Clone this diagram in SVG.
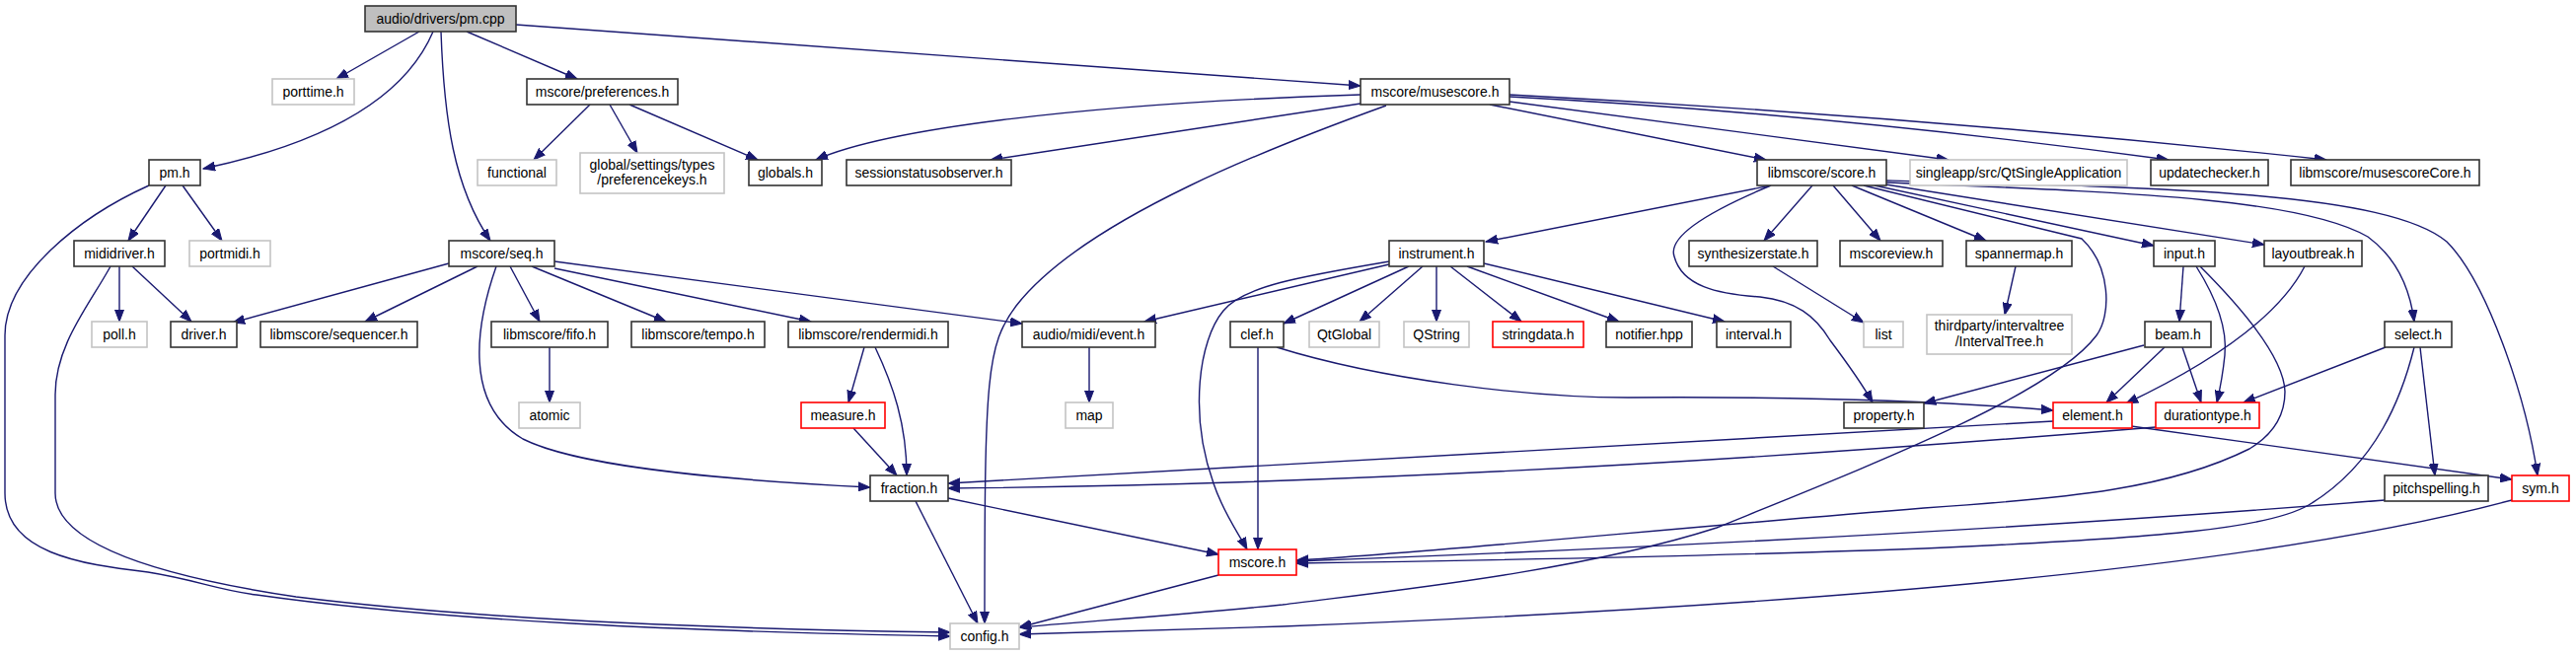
<svg xmlns="http://www.w3.org/2000/svg" width="2611" height="664" viewBox="0 0 2611 664">
<style>
.n rect{fill:#fff;stroke:#333;stroke-width:1.6}
.n.g rect{stroke:#c4c4c4}
.n.r rect{stroke:#f00}
.n.root rect{fill:#bfbfbf}
.n text{font-family:"Liberation Sans",Arial,sans-serif;font-size:14px;fill:#000;text-anchor:middle}
#edges path{fill:none;stroke:#191970;stroke-width:1.4;marker-end:url(#ah)}
</style>
<defs>
<marker id="ah" markerUnits="userSpaceOnUse" markerWidth="13" markerHeight="10" refX="12" refY="5" orient="auto"><path d="M0,0.5 L12,5 L0,9.5 z" fill="#191970" stroke="#191970" stroke-width="1"/></marker>
</defs>
<rect width="2611" height="664" fill="#fff"/>
<g id="edges">
<path d="M425,32 L341,80"/>
<path d="M439,32 C410,100 330,145 206,171"/>
<path d="M447,32 C450,120 460,190 497,244"/>
<path d="M473,32 L585,80"/>
<path d="M523,25 L1379,87"/>
<path d="M598,106 L541,162"/>
<path d="M618,106 L646,155"/>
<path d="M638,106 L768,162"/>
<path d="M168,188 L130,244"/>
<path d="M185,188 L225,244"/>
<path d="M151,188 C80,220 5,280 5,340 L5,500 C5,560 80,572 150,580 C200,588 220,598 260,603 C450,630 700,640 963,645"/>
<path d="M121,270 L121,326"/>
<path d="M134,270 L194,326"/>
<path d="M112,270 C90,310 56,350 56,400 L56,500 C56,560 200,590 300,605 C500,630 750,638 963,641"/>
<path d="M455,267 L236,327"/>
<path d="M484,270 L370,326"/>
<path d="M517,270 L547,326"/>
<path d="M539,270 L675,326"/>
<path d="M562,272 L822,326"/>
<path d="M562,265 L1036,328"/>
<path d="M503,270 C482,330 470,410 530,445 C580,470 700,485 882,494"/>
<path d="M557,352 L557,408"/>
<path d="M876,352 L860,408"/>
<path d="M887,352 C905,390 919,430 919,482"/>
<path d="M865,434 L909,482"/>
<path d="M1104,352 L1104,408"/>
<path d="M1379,96 C1100,105 900,130 827,162"/>
<path d="M1379,105 L1004,162"/>
<path d="M1405,107 C1300,145 1100,220 1030,310 C1000,350 998,380 998,632"/>
<path d="M1510,106 L1790,162"/>
<path d="M1530,103 L1975,162"/>
<path d="M1530,98 Q1850,115 2198,162"/>
<path d="M1530,96 Q1950,118 2358,162"/>
<path d="M1795,188 L1506,245"/>
<path d="M1795,188 C1730,215 1690,240 1697,260 C1705,290 1740,298 1784,301 C1820,305 1840,320 1855,345 C1870,365 1885,385 1898,408"/>
<path d="M1837,188 L1788,244"/>
<path d="M1858,188 L1906,244"/>
<path d="M1877,188 L2013,244"/>
<path d="M1889,188 L2110,242 C2140,270 2140,320 2125,340 C2080,400 1900,470 1740,535 C1600,580 1400,600 1300,613 C1200,623 1100,630 1033,636"/>
<path d="M1900,188 L2183,249"/>
<path d="M1905,186 L2295,248"/>
<path d="M1912,185 C2150,195 2330,200 2400,240 C2430,262 2443,295 2447,326"/>
<path d="M1912,183 C2200,190 2420,195 2480,245 C2520,285 2560,400 2572,482"/>
<path d="M1408,268 L1160,326"/>
<path d="M1408,265 C1320,280 1260,290 1240,315 C1215,345 1205,420 1230,490 C1240,520 1255,540 1264,557"/>
<path d="M1428,270 L1301,328"/>
<path d="M1442,270 L1378,326"/>
<path d="M1456,270 L1456,326"/>
<path d="M1470,270 L1542,326"/>
<path d="M1487,270 L1641,326"/>
<path d="M1504,267 L1748,326"/>
<path d="M1275,352 L1275,557"/>
<path d="M1294,352 C1400,385 1550,403 1650,403 C1800,402 1950,405 2081,416"/>
<path d="M1797,270 L1889,327"/>
<path d="M2043,270 L2032,319"/>
<path d="M2213,270 L2209,326"/>
<path d="M2226,270 C2245,300 2258,330 2255,360 C2253,380 2250,395 2247,408"/>
<path d="M2230,270 C2265,305 2315,360 2316,397 C2316,420 2305,440 2280,455 C2200,495 2100,505 1950,515 C1700,535 1450,560 1314,568"/>
<path d="M2336,270 Q2300,340 2155,409"/>
<path d="M2173,350 L1950,409"/>
<path d="M2194,352 L2135,408"/>
<path d="M2212,352 L2231,408"/>
<path d="M2418,352 L2274,408"/>
<path d="M2453,352 L2468,482"/>
<path d="M2447,352 C2435,400 2410,470 2340,512 C2300,535 2200,545 1950,556 C1700,565 1450,569 1314,571"/>
<path d="M2417,507 Q1950,545 1314,569"/>
<path d="M2160,432 L2546,486"/>
<path d="M2081,427 L961,490"/>
<path d="M2185,433 Q1500,490 961,495"/>
<path d="M961,505 L1235,562"/>
<path d="M928,508 L991,632"/>
<path d="M1235,583 L1033,636"/>
<path d="M2546,507 Q2200,600 1300,635 L1033,643"/>
</g>
<g id="n_pm_cpp" class="n root"><rect x="370" y="6" width="153" height="26"/><text x="446.5" y="24">audio/drivers/pm.cpp</text></g>
<g id="n_porttime" class="n g"><rect x="276" y="80" width="83" height="26"/><text x="317.5" y="98">porttime.h</text></g>
<g id="n_preferences" class="n"><rect x="534" y="80" width="153" height="26"/><text x="610.5" y="98">mscore/preferences.h</text></g>
<g id="n_musescore" class="n"><rect x="1379" y="80" width="151" height="26"/><text x="1454.5" y="98">mscore/musescore.h</text></g>
<g id="n_pm_h" class="n"><rect x="151" y="162" width="52" height="26"/><text x="177" y="180">pm.h</text></g>
<g id="n_functional" class="n g"><rect x="484" y="162" width="80" height="26"/><text x="524" y="180">functional</text></g>
<g id="n_prefkeys" class="n g"><rect x="588" y="155" width="146" height="41"/><text x="661" y="172">global/settings/types</text><text x="661" y="187">/preferencekeys.h</text></g>
<g id="n_globals" class="n"><rect x="759" y="162" width="74" height="26"/><text x="796" y="180">globals.h</text></g>
<g id="n_sessionstatus" class="n"><rect x="858" y="162" width="167" height="26"/><text x="941.5" y="180">sessionstatusobserver.h</text></g>
<g id="n_score" class="n"><rect x="1781" y="162" width="131" height="26"/><text x="1846.5" y="180">libmscore/score.h</text></g>
<g id="n_singleapp" class="n g"><rect x="1936" y="162" width="220" height="26"/><text x="2046" y="180">singleapp/src/QtSingleApplication</text></g>
<g id="n_updatechecker" class="n"><rect x="2180" y="162" width="119" height="26"/><text x="2239.5" y="180">updatechecker.h</text></g>
<g id="n_musescoreCore" class="n"><rect x="2322" y="162" width="191" height="26"/><text x="2417.5" y="180">libmscore/musescoreCore.h</text></g>
<g id="n_mididriver" class="n"><rect x="75" y="244" width="92" height="26"/><text x="121" y="262">mididriver.h</text></g>
<g id="n_portmidi" class="n g"><rect x="192" y="244" width="82" height="26"/><text x="233" y="262">portmidi.h</text></g>
<g id="n_seq" class="n"><rect x="455" y="244" width="107" height="26"/><text x="508.5" y="262">mscore/seq.h</text></g>
<g id="n_instrument" class="n"><rect x="1408" y="244" width="96" height="26"/><text x="1456" y="262">instrument.h</text></g>
<g id="n_synthstate" class="n"><rect x="1712" y="244" width="130" height="26"/><text x="1777" y="262">synthesizerstate.h</text></g>
<g id="n_mscoreview" class="n"><rect x="1865" y="244" width="104" height="26"/><text x="1917" y="262">mscoreview.h</text></g>
<g id="n_spannermap" class="n"><rect x="1993" y="244" width="107" height="26"/><text x="2046.5" y="262">spannermap.h</text></g>
<g id="n_input" class="n"><rect x="2183" y="244" width="62" height="26"/><text x="2214" y="262">input.h</text></g>
<g id="n_layoutbreak" class="n"><rect x="2295" y="244" width="99" height="26"/><text x="2344.5" y="262">layoutbreak.h</text></g>
<g id="n_poll" class="n g"><rect x="93" y="326" width="56" height="26"/><text x="121" y="344">poll.h</text></g>
<g id="n_driver" class="n"><rect x="173" y="326" width="67" height="26"/><text x="206.5" y="344">driver.h</text></g>
<g id="n_sequencer" class="n"><rect x="264" y="326" width="159" height="26"/><text x="343.5" y="344">libmscore/sequencer.h</text></g>
<g id="n_fifo" class="n"><rect x="498" y="326" width="118" height="26"/><text x="557" y="344">libmscore/fifo.h</text></g>
<g id="n_tempo" class="n"><rect x="640" y="326" width="135" height="26"/><text x="707.5" y="344">libmscore/tempo.h</text></g>
<g id="n_rendermidi" class="n"><rect x="799" y="326" width="162" height="26"/><text x="880" y="344">libmscore/rendermidi.h</text></g>
<g id="n_event" class="n"><rect x="1036" y="326" width="135" height="26"/><text x="1103.5" y="344">audio/midi/event.h</text></g>
<g id="n_clef" class="n"><rect x="1247" y="326" width="54" height="26"/><text x="1274" y="344">clef.h</text></g>
<g id="n_qtglobal" class="n g"><rect x="1327" y="326" width="71" height="26"/><text x="1362.5" y="344">QtGlobal</text></g>
<g id="n_qstring" class="n g"><rect x="1423" y="326" width="66" height="26"/><text x="1456" y="344">QString</text></g>
<g id="n_stringdata" class="n r"><rect x="1513" y="326" width="92" height="26"/><text x="1559" y="344">stringdata.h</text></g>
<g id="n_notifier" class="n"><rect x="1628" y="326" width="87" height="26"/><text x="1671.5" y="344">notifier.hpp</text></g>
<g id="n_interval" class="n"><rect x="1740" y="326" width="75" height="26"/><text x="1777.5" y="344">interval.h</text></g>
<g id="n_list" class="n g"><rect x="1889" y="326" width="40" height="26"/><text x="1909" y="344">list</text></g>
<g id="n_intervaltree" class="n g"><rect x="1953" y="319" width="147" height="40"/><text x="2026.5" y="335">thirdparty/intervaltree</text><text x="2026.5" y="351">/IntervalTree.h</text></g>
<g id="n_beam" class="n"><rect x="2174" y="326" width="67" height="26"/><text x="2207.5" y="344">beam.h</text></g>
<g id="n_select" class="n"><rect x="2417" y="326" width="68" height="26"/><text x="2451" y="344">select.h</text></g>
<g id="n_atomic" class="n g"><rect x="526" y="408" width="62" height="26"/><text x="557" y="426">atomic</text></g>
<g id="n_measure" class="n r"><rect x="812" y="408" width="85" height="26"/><text x="854.5" y="426">measure.h</text></g>
<g id="n_map" class="n g"><rect x="1080" y="408" width="48" height="26"/><text x="1104" y="426">map</text></g>
<g id="n_property" class="n"><rect x="1869" y="408" width="81" height="26"/><text x="1909.5" y="426">property.h</text></g>
<g id="n_element" class="n r"><rect x="2081" y="408" width="80" height="26"/><text x="2121" y="426">element.h</text></g>
<g id="n_durationtype" class="n r"><rect x="2185" y="408" width="105" height="26"/><text x="2237.5" y="426">durationtype.h</text></g>
<g id="n_fraction" class="n"><rect x="882" y="482" width="79" height="26"/><text x="921.5" y="500">fraction.h</text></g>
<g id="n_pitchspelling" class="n"><rect x="2417" y="482" width="105" height="26"/><text x="2469.5" y="500">pitchspelling.h</text></g>
<g id="n_sym" class="n r"><rect x="2546" y="482" width="58" height="26"/><text x="2575" y="500">sym.h</text></g>
<g id="n_mscore" class="n r"><rect x="1235" y="557" width="79" height="26"/><text x="1274.5" y="575">mscore.h</text></g>
<g id="n_config" class="n g"><rect x="963" y="632" width="70" height="26"/><text x="998" y="650">config.h</text></g>
</svg>
